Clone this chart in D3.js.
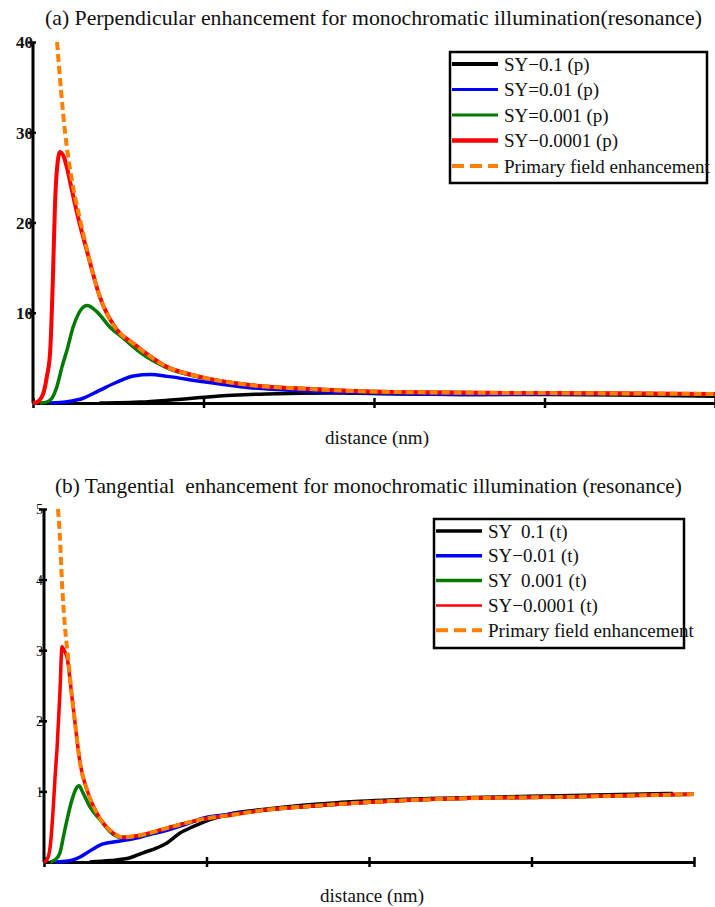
<!DOCTYPE html>
<html>
<head>
<meta charset="utf-8">
<script src="https://cdn.jsdelivr.net/npm/d3@7/dist/d3.min.js"></script>
<style>
  html, body { margin: 0; padding: 0; background: #fff; }
  svg { display: block; }
</style>
</head>
<body>
<svg id="chart" width="715" height="907"></svg>
<script>
// ---- Panel (a): perpendicular enhancement, points as [distance, enhancement]
const perpSY01 = [[0.39,0],[0.5,0.02],[0.63,0.1],[0.79,0.3],[0.98,0.6],[1.17,0.85],[1.37,1.0],[1.76,1.1],[2.15,1.0],[2.62,0.95],[3.0,0.95],[3.56,0.85],[4.0,0.75]];
const perpSY001 = [[0.1,0],[0.16,0.05],[0.22,0.2],[0.29,0.5],[0.39,1.4],[0.49,2.3],[0.59,3.0],[0.69,3.15],[0.79,2.95],[0.98,2.4],[1.27,1.7],[1.57,1.35],[1.86,1.15],[2.15,1.05],[2.64,0.95],[3.0,1.0],[4.0,1.0]];
const perpSY0001 = [[0.04,0],[0.08,0.1],[0.11,0.5],[0.14,1.8],[0.17,4],[0.2,5.9],[0.235,8.4],[0.27,10],[0.317,10.8],[0.375,10.1],[0.452,8.4],[0.528,7.2],[0.628,5.6],[0.786,3.9],[0.98,2.85],[1.27,2.0],[1.57,1.6],[1.92,1.3],[2.45,1.15],[3.0,1.1],[4.0,1.0]];
const perpSY00001 = [[0,0],[0.023,0.1],[0.059,1],[0.082,3],[0.1,5.5],[0.117,14],[0.129,22],[0.141,26],[0.158,27.8],[0.182,27.2],[0.2,26],[0.229,23.5],[0.264,20.6],[0.317,16.8],[0.393,11.7],[0.493,8.1],[0.587,6.6],[0.786,4.0],[0.98,2.9],[1.27,2.0],[1.57,1.6],[1.92,1.3],[2.45,1.15],[3.0,1.1],[4.0,1.0]];
const perpPrimary = [[0.141,40],[0.165,34.5],[0.188,30],[0.23,24.5],[0.276,20.3],[0.317,17],[0.393,11.7],[0.493,8.1],[0.587,6.6],[0.786,4.0],[0.98,2.9],[1.27,2.0],[1.57,1.6],[1.92,1.3],[2.45,1.15],[3.0,1.1],[4.0,1.0]];

// ---- Panel (b): tangential enhancement
const tangSY01 = [[0.28,0],[0.41,0.02],[0.53,0.06],[0.61,0.13],[0.695,0.2],[0.757,0.27],[0.837,0.41],[0.917,0.5],[1.022,0.6],[1.163,0.69],[1.372,0.75],[1.575,0.8],[1.945,0.86],[2.56,0.91],[3.175,0.94],[3.87,0.97]];
const tangSY001 = [[0.068,0],[0.129,0.01],[0.178,0.03],[0.222,0.07],[0.265,0.13],[0.345,0.24],[0.449,0.29],[0.548,0.33],[0.652,0.39],[0.757,0.45],[0.88,0.54],[0.978,0.62],[1.083,0.66],[1.372,0.74],[1.575,0.78],[1.945,0.84],[2.56,0.9],[3.175,0.92],[4.0,0.96]];
const tangSY0001 = [[0.037,0],[0.068,0.03],[0.098,0.13],[0.123,0.4],[0.142,0.6],[0.172,0.88],[0.203,1.06],[0.215,1.08],[0.24,0.98],[0.283,0.78],[0.345,0.6],[0.406,0.43],[0.468,0.35],[0.591,0.37],[0.757,0.48],[0.96,0.6],[1.163,0.67],[1.372,0.74],[1.575,0.78],[1.945,0.84],[2.56,0.9],[3.175,0.92],[4.0,0.96]];
const tangSY00001 = [[0,0],[0.018,0.03],[0.037,0.2],[0.055,0.7],[0.068,1.2],[0.08,1.6],[0.098,2.4],[0.111,3.05],[0.123,3.0],[0.142,2.9],[0.172,2.34],[0.191,1.97],[0.222,1.4],[0.265,1.02],[0.326,0.69],[0.406,0.45],[0.486,0.35],[0.591,0.38],[0.757,0.48],[0.96,0.6],[1.163,0.67],[1.372,0.74],[1.575,0.78],[1.945,0.84],[2.56,0.9],[3.175,0.92],[4.0,0.96]];
const tangPrimary = [[0.086,5.0],[0.098,4.6],[0.111,3.95],[0.129,3.33],[0.148,2.9],[0.172,2.34],[0.191,1.97],[0.222,1.4],[0.265,1.02],[0.326,0.69],[0.406,0.45],[0.486,0.35],[0.591,0.38],[0.757,0.48],[0.96,0.6],[1.163,0.67],[1.372,0.74],[1.575,0.78],[1.945,0.84],[2.56,0.9],[3.175,0.92],[4.0,0.96]];

// ---- labels and ticks
const titleA = "(a) Perpendicular enhancement for monochromatic illumination(resonance)";
const titleB = "(b) Tangential  enhancement for monochromatic illumination (resonance)";
const xLabel = "distance (nm)";
const legendA = ["SY\u22120.1 (p)", "SY=0.01 (p)", "SY=0.001 (p)", "SY\u22120.0001 (p)", "Primary field enhancement"];
const legendB = ["SY  0.1 (t)", "SY\u22120.01 (t)", "SY  0.001 (t)", "SY\u22120.0001 (t)", "Primary field enhancement"];
const yTicksA = [10, 20, 30, 40];
const yTicksB = [1, 2, 3, 4, 5];
const xTicks = [0, 1, 2, 3, 4];

const colors = ["#000000", "#0000ff", "#007a00", "#ff0000", "#ff8000"];
const SERIF = '"Liberation Serif", "Times New Roman", serif';

const svg = d3.select("#chart");

function serifText(sel) {
  return sel.style("font-family", SERIF).style("white-space", "pre").attr("fill", "#111");
}

function panel(cfg) {
  const g = svg.append("g");
  const x = d3.scaleLinear().domain([0, 4]).range(cfg.xRange);
  const y = d3.scaleLinear().domain(cfg.yDomain).range(cfg.yRange);

  // title, font size fitted to the span it should cover
  const t = serifText(g.append("text"))
    .attr("x", cfg.title.x).attr("y", cfg.title.y)
    .style("font-size", "20px")
    .text(cfg.title.text);
  const w = t.node().getComputedTextLength();
  if (w > 0) t.style("font-size", (20 * cfg.title.len / w).toFixed(2) + "px");

  // x axis
  const xa = g.append("g")
    .attr("transform", `translate(0,${cfg.yRange[0]})`)
    .call(d3.axisBottom(x).tickValues(xTicks).tickFormat("").tickSizeOuter(0));
  xa.select(".domain").attr("stroke", "#000").attr("stroke-width", 3);
  xa.selectAll(".tick line").attr("y1", -5).attr("y2", 5).attr("stroke-width", 2.5);

  // y axis
  const ya = g.append("g")
    .attr("transform", `translate(${cfg.xRange[0]},0)`)
    .call(d3.axisLeft(y).tickValues(cfg.yTicks).tickSizeOuter(0).tickFormat(d3.format("d")));
  ya.select(".domain").attr("stroke", "#000").attr("stroke-width", 3)
    .attr("d", `M0,${cfg.yRange[0]}V${cfg.yRange[1]}`);
  ya.selectAll(".tick line").attr("x1", -5).attr("x2", 3).attr("stroke-width", 2.5);
  serifText(ya.selectAll(".tick text"))
    .attr("x", cfg.tickLabelX).attr("dy", "0.35em")
    .style("font-size", cfg.tickSize + "px")
    .style("font-weight", cfg.tickWeight);

  // x label
  serifText(g.append("text"))
    .attr("x", cfg.xLabel.x).attr("y", cfg.xLabel.y)
    .attr("text-anchor", "middle")
    .style("font-size", "19px")
    .text(xLabel);

  // curves
  const line = d3.line().x(d => x(d[0])).y(d => y(d[1])).curve(d3.curveMonotoneX);
  cfg.series.forEach((s, i) => {
    g.append("path")
      .datum(s)
      .attr("fill", "none")
      .attr("stroke", colors[i])
      .attr("stroke-width", i === 4 ? 4 : cfg.widths[i])
      .attr("stroke-dasharray", i === 4 ? "8,4" : null)
      .attr("stroke-linejoin", "round")
      .attr("d", line);
  });

  // legend
  const L = cfg.legend;
  const lg = g.append("g");
  lg.append("rect")
    .attr("x", L.x).attr("y", L.y).attr("width", L.w).attr("height", L.h)
    .attr("fill", "#fff").attr("stroke", "#000").attr("stroke-width", 2.5);
  L.labels.forEach((lab, i) => {
    const cy = L.y + L.first + i * L.step;
    lg.append("line")
      .attr("x1", L.x + 2).attr("x2", L.x + 48)
      .attr("y1", cy).attr("y2", cy)
      .attr("stroke", colors[i])
      .attr("stroke-width", i === 4 ? 4 : L.widths[i])
      .attr("stroke-dasharray", i === 4 ? "12,6" : null);
    serifText(lg.append("text"))
      .attr("x", L.x + 54).attr("y", cy).attr("dy", "0.35em")
      .style("font-size", "19px")
      .text(lab);
  });
}

panel({
  xRange: [33, 715], yDomain: [0, 40], yRange: [403, 42],
  yTicks: yTicksA, tickLabelX: 0, tickSize: 17, tickWeight: "bold",
  title: { text: titleA, x: 45, y: 25, len: 657 },
  xLabel: { x: 377, y: 444 },
  series: [perpSY01, perpSY001, perpSY0001, perpSY00001, perpPrimary],
  widths: [3.5, 3.5, 3.5, 4, 4],
  legend: { x: 450, y: 52, w: 257, h: 131, first: 12, step: 25.5, labels: legendA, widths: [4, 3, 3, 4.5, 4] }
});

panel({
  xRange: [44, 694], yDomain: [0, 5], yRange: [862, 509],
  yTicks: yTicksB, tickLabelX: -1, tickSize: 14, tickWeight: "normal",
  title: { text: titleB, x: 55, y: 493, len: 627 },
  xLabel: { x: 372, y: 902 },
  series: [tangSY01, tangSY001, tangSY0001, tangSY00001, tangPrimary],
  widths: [3.5, 3.5, 3.5, 3.5, 4],
  legend: { x: 434, y: 519, w: 250, h: 129, first: 12, step: 24.8, labels: legendB, widths: [3.5, 3.5, 3.5, 2.5, 4] }
});
</script>
</body>
</html>
